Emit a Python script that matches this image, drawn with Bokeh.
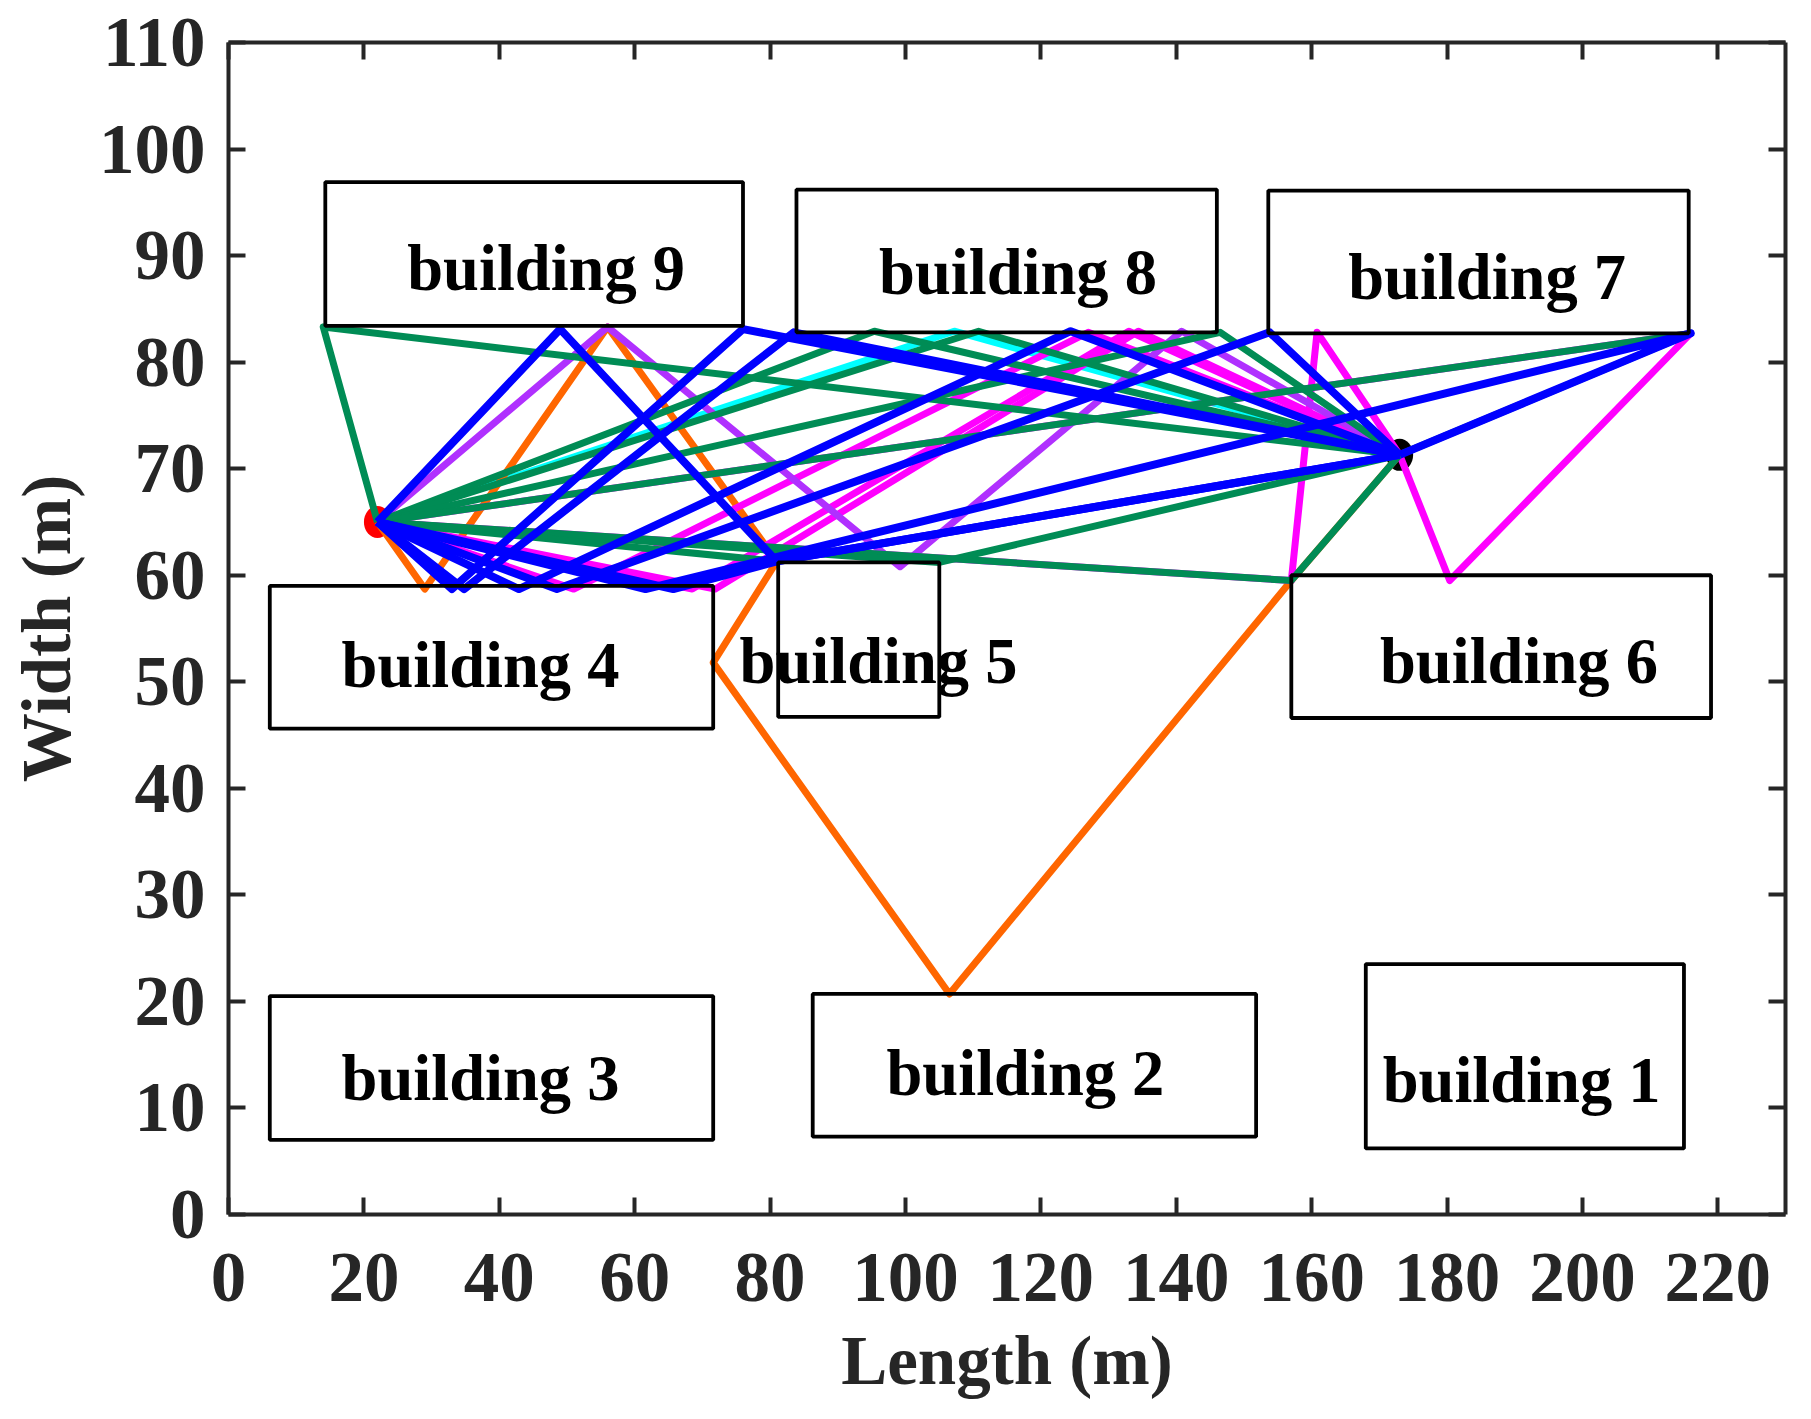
from bokeh.embed import file_html
from bokeh.models import ColumnDataSource, CustomJSTickFormatter, FixedTicker, LinearAxis, Range1d
from bokeh.plotting import figure
from bokeh.resources import INLINE

# ─── data (metres) ──────────────────────────────────────────────────────────
START = (22.0, 65.0)
END = (173.0, 71.3)

# reflection points between START and END, one list per ray
CYAN_RAYS = [
    [(107.2, 82.9)],
]
ORANGE_RAYS = [
    [(29.0, 58.7), (56.0, 83.3), (81.0, 61.3), (71.6, 51.8), (106.5, 20.7), (157.0, 59.5)],
]
MAGENTA_RAYS = [
    [(51.0, 58.7), (127.0, 82.8)],
    [(68.5, 58.7), (133.0, 82.9)],
    [(71.9, 58.7), (134.4, 82.9)],
    [(157.0, 59.5), (160.8, 82.8)],
    [(216.0, 82.7), (180.4, 59.5)],
]
PURPLE_RAYS = [
    [(56.0, 83.3), (99.2, 60.8), (140.8, 82.9)],
]
GREEN_RAYS = [
    [(14.0, 83.3)],
    [(95.4, 82.9)],
    [(110.8, 82.9)],
    [(146.5, 82.8)],
    [(216.0, 82.7)],
    [(157.0, 59.5)],
    [(105.0, 61.2)],
    [(81.0, 61.3)],
]
BLUE_RAYS = [
    [(49.0, 83.1), (81.0, 61.3)],
    [(33.0, 58.7), (76.0, 83.1)],
    [(34.8, 58.7), (83.5, 82.8)],
    [(42.9, 58.7), (124.4, 82.9)],
    [(48.5, 58.7), (153.8, 82.8)],
    [(61.6, 58.7), (216.0, 82.7)],
    [(65.7, 58.7), (81.0, 61.3)],
]

BUILDING_NAMES = ["building 1", "building 2", "building 3", "building 4", "building 5",
                  "building 6", "building 7", "building 8", "building 9"]
BUILDING_LEFT = [168.0, 86.3, 6.1, 6.1, 81.2, 157.0, 153.6, 83.9, 14.3]
BUILDING_RIGHT = [215.0, 151.8, 71.6, 71.6, 105.0, 219.0, 215.7, 146.0, 76.0]
BUILDING_BOTTOM = [6.2, 7.3, 7.0, 45.6, 46.7, 46.6, 82.7, 82.8, 83.4]
BUILDING_TOP = [23.5, 20.7, 20.5, 59.0, 61.2, 60.0, 96.1, 96.2, 96.9]
LABEL_X = [170.5, 97.2, 16.7, 16.7, 75.5, 170.1, 165.4, 96.1, 26.4]
LABEL_Y = [12.55, 13.25, 12.75, 51.5, 51.9, 51.9, 87.9, 88.4, 88.8]

X_TICKS = list(range(0, 221, 20))
Y_TICKS = list(range(0, 111, 10))

AXIS_COLOR = "#262626"
FONT = "Liberation Serif"


def ray_source(rays):
    xs, ys = [], []
    for via in rays:
        pts = [START] + via + [END]
        xs.append([pt[0] for pt in pts])
        ys.append([pt[1] for pt in pts])
    return ColumnDataSource(dict(xs=xs, ys=ys))


def style_axis(ax, ticks):
    ax.ticker = FixedTicker(ticks=ticks)
    ax.axis_line_color = AXIS_COLOR
    ax.axis_line_width = 4
    ax.major_tick_line_color = AXIS_COLOR
    ax.major_tick_line_width = 4
    ax.major_tick_in = 17
    ax.major_tick_out = 0
    ax.minor_tick_line_color = None
    ax.major_label_text_color = AXIS_COLOR
    ax.major_label_text_font = FONT
    ax.major_label_text_font_style = "bold"
    ax.major_label_text_font_size = "71px"
    ax.axis_label_text_color = AXIS_COLOR
    ax.axis_label_text_font = FONT
    ax.axis_label_text_font_style = "bold"
    ax.axis_label_text_font_size = "69px"


p = figure(frame_width=1557, frame_height=1172, output_backend="svg", toolbar_location=None,
           x_range=Range1d(0, 230), y_range=Range1d(0, 110),
           min_border_left=228, min_border_right=10, min_border_top=42, min_border_bottom=170)
p.grid.grid_line_color = None
p.outline_line_color = None
p.background_fill_color = "white"

# start and end markers sit under the rays
p.ellipse([START[0]], [START[1]], width=27, height=32, width_units="screen",
          height_units="screen", fill_color="#ff0000", line_color=None)
p.ellipse([END[0]], [END[1]], width=27, height=32, width_units="screen",
          height_units="screen", fill_color="#000000", line_color=None)

for rays, color, lw in [(CYAN_RAYS, "#00ffff", 7), (ORANGE_RAYS, "#ff6600", 7),
                        (MAGENTA_RAYS, "#ff00ff", 7), (PURPLE_RAYS, "#b030ff", 7),
                        (GREEN_RAYS, "#008c55", 7), (BLUE_RAYS, "#0000ff", 8)]:
    p.multi_line("xs", "ys", source=ray_source(rays), line_color=color,
                 line_width=lw, line_join="round")

p.quad(left=BUILDING_LEFT, right=BUILDING_RIGHT, bottom=BUILDING_BOTTOM, top=BUILDING_TOP,
       fill_color=None, line_color="black", line_width=3.8)
p.text(LABEL_X, LABEL_Y, text=BUILDING_NAMES, text_font=FONT, text_font_style="bold",
       text_font_size="64.5px", text_color="black", text_baseline="alphabetic", text_align="left")

p.xaxis.axis_label = "Length (m)"
p.yaxis.axis_label = "Width (m)"
style_axis(p.xaxis[0], X_TICKS)
style_axis(p.yaxis[0], Y_TICKS)
p.xaxis.major_label_standoff = 39
p.yaxis.major_label_standoff = 23
p.xaxis.axis_label_standoff = 19
p.yaxis.axis_label_standoff = 11

# MATLAB-style box: same ticks mirrored on the top and right, no labels
blank = CustomJSTickFormatter(code="return ''")
for place, ticks in [("above", X_TICKS), ("right", Y_TICKS)]:
    ax = LinearAxis(formatter=blank)
    style_axis(ax, ticks)
    ax.major_label_standoff = 0
    p.add_layout(ax, place)

open("out.html", "w").write(file_html(p, INLINE))
